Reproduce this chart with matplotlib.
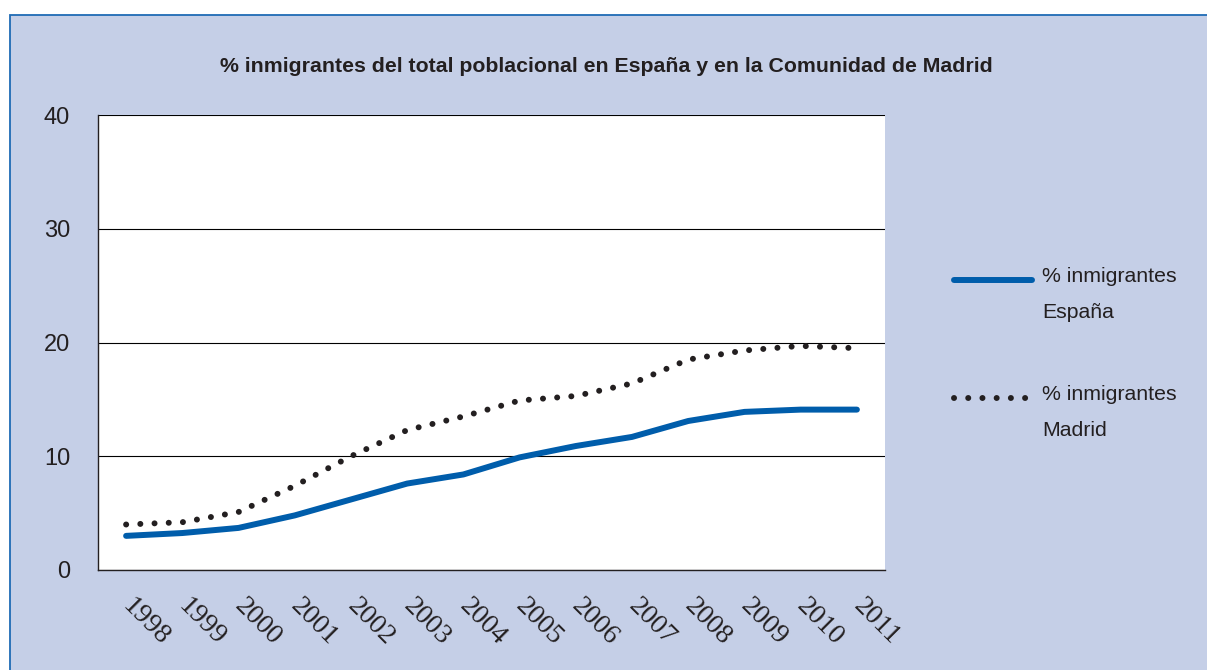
import matplotlib.pyplot as plt
from matplotlib.lines import Line2D
from matplotlib.patches import Rectangle

years = ["1998", "1999", "2000", "2001", "2002", "2003", "2004",
         "2005", "2006", "2007", "2008", "2009", "2010", "2011"]
espana = [3.0, 3.25, 3.7, 4.8, 6.2, 7.6, 8.4, 9.9, 10.9, 11.7, 13.1, 13.9, 14.1, 14.1]
madrid = [4.0, 4.2, 5.1, 7.4, 10.0, 12.3, 13.5, 14.9, 15.3, 16.4, 18.5, 19.3, 19.7, 19.5]
labels = ["% inmigrantes\nEspaña", "% inmigrantes\nMadrid"]
title = "% inmigrantes del total poblacional en España y en la Comunidad de Madrid"

bg = "#c5cfe7"
blue = "#005dab"
dark = "#231f20"
dots = (0, (0.01, 2.37))

W, H = 1207, 670
fig = plt.figure(figsize=(W / 100, H / 100), dpi=100, facecolor="white")
fig.add_artist(Rectangle((10 / W, -0.1), 1.2, 655 / H + 0.1, transform=fig.transFigure,
                         facecolor=bg, edgecolor="#1f6bb5", linewidth=1.3, zorder=-10))

ax = fig.add_axes([98 / W, 1 - 570 / H, (885 - 98) / W, (570 - 115) / H])
ax.set_facecolor("white")
x = range(len(years))
ax.plot(x, espana, color=blue, lw=4.3, solid_capstyle="round", zorder=3)
ax.plot(x, madrid, color=dark, lw=4.3, linestyle=dots,
        dash_capstyle="round", zorder=3)

ax.set_xlim(-0.5, len(years) - 0.5)
ax.set_ylim(0, 40)
ax.set_yticks([0, 10, 20, 30, 40])
ax.yaxis.grid(True, color="black", lw=0.8)
ax.set_axisbelow(True)
for s in ["top", "right"]:
    ax.spines[s].set_visible(False)
for s in ["left", "bottom"]:
    ax.spines[s].set_color(dark)
    ax.spines[s].set_linewidth(1.0)
ax.tick_params(axis="y", length=0, pad=20, labelsize=17, labelcolor=dark)
ax.set_xticks(list(x))
ax.set_xticklabels(years, rotation=-45, ha="left", va="center",
                   rotation_mode="anchor", family="Liberation Serif", fontsize=20, color=dark)
ax.tick_params(axis="x", length=0, pad=23)
for t in ax.get_yticklabels():
    t.set_family("Liberation Sans")

fig.text(0.502, 1 - 66 / H, title, ha="center", va="center", fontsize=15.3,
         fontweight="bold", color=dark, family="Liberation Sans")

# legend
entries = [(blue, "-", 280), (dark, dots, 398)]
for (c, ls, yy), lab in zip(entries, labels):
    fig.add_artist(Line2D([954 / W, 1032 / W], [1 - yy / H, 1 - yy / H], color=c,
                          lw=4.3, linestyle=ls,
                          solid_capstyle="round", dash_capstyle="round"))
    fig.text(1042 / W, 1 - (yy - 13) / H, lab, ha="left", va="top", fontsize=15.3,
             color=dark, family="Liberation Sans", linespacing=2.15)

fig.savefig("out.png", dpi=100, facecolor=fig.get_facecolor())
